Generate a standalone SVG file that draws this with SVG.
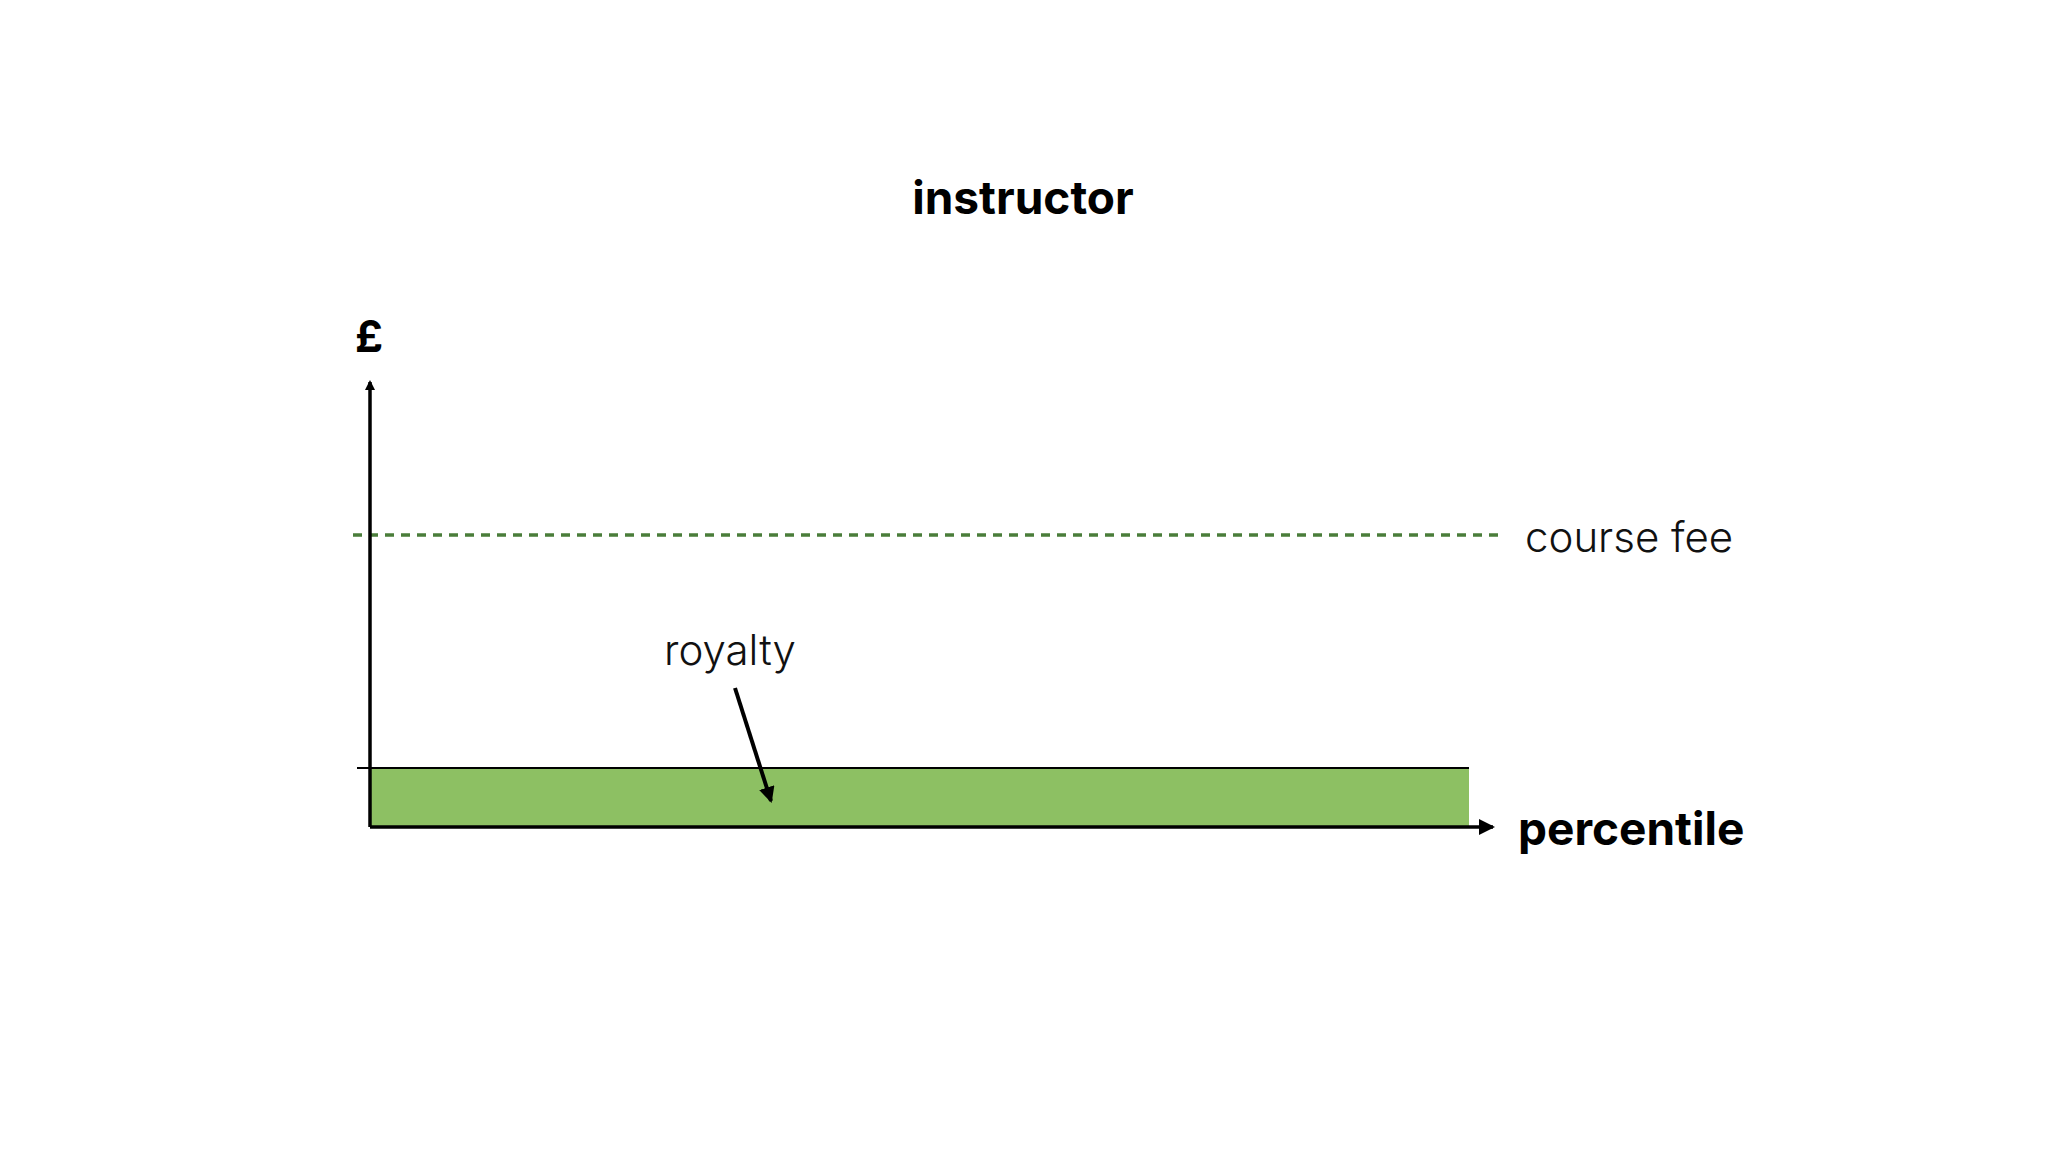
<svg xmlns="http://www.w3.org/2000/svg" width="2048" height="1152" viewBox="0 0 2048 1152">
<style>
.b{font-family:Inter,"Open Sans",sans-serif;font-weight:700;fill:#000}
.l{font-family:Inter,"Open Sans",sans-serif;font-weight:300;fill:#111}
</style>
<defs>
<marker id="ah" markerWidth="10" markerHeight="10" refX="8" refY="5" orient="auto" markerUnits="userSpaceOnUse" viewBox="0 0 10 10"><path d="M0,0 L10,5 L0,10 z" fill="#000"/></marker>
<marker id="ah2" markerWidth="16" markerHeight="16" refX="14" refY="8" orient="auto" markerUnits="userSpaceOnUse" viewBox="0 0 16 16"><path d="M0,0 L16,8 L0,16 z" fill="#000"/></marker>
</defs>
<rect width="2048" height="1152" fill="#fff"/>
<g id="title"><text class="b" x="1023" y="214" font-size="46" text-anchor="middle">instructor</text></g>
<g id="royalty-bar"><rect x="370" y="768" width="1099" height="59" fill="#8dc063"/><line x1="357" y1="768" x2="1469" y2="768" stroke="#000" stroke-width="2"/></g>
<g id="course-fee"><line x1="353" y1="535" x2="1505" y2="535" stroke="#4a7d3a" stroke-width="3.5" stroke-dasharray="9,7"/><text class="l" x="1525" y="552" font-size="42">course fee</text></g>
<g id="axes">
<line x1="370" y1="827" x2="370" y2="382" stroke="#000" stroke-width="3.5" marker-end="url(#ah)"/>
<line x1="370" y1="827" x2="1493" y2="827" stroke="#000" stroke-width="3.5" marker-end="url(#ah2)"/>
<text class="b" x="369" y="352" font-size="44" text-anchor="middle">£</text>
<text class="b" x="1518" y="845" font-size="46">percentile</text>
</g>
<g id="connectors"><line x1="735" y1="688" x2="771" y2="801" stroke="#000" stroke-width="4" marker-end="url(#ah2)"/></g>
<g id="royalty-label"><text class="l" x="730" y="665" font-size="42" text-anchor="middle">royalty</text></g>
</svg>
